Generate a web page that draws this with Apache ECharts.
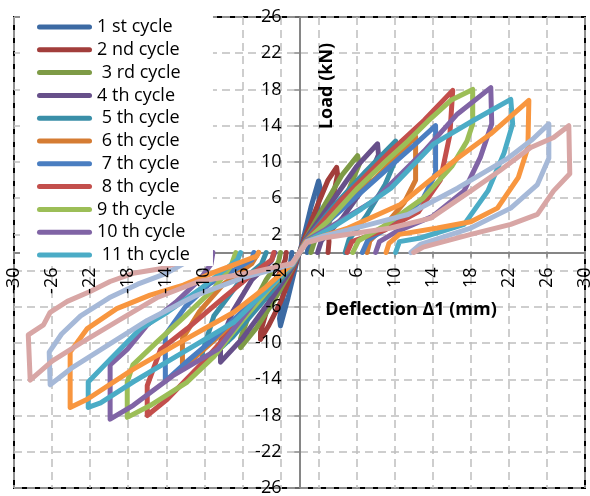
<!DOCTYPE html>
<html>
<head>
<meta charset="utf-8">
<script src="https://cdn.jsdelivr.net/npm/echarts@6.0.0/dist/echarts.min.js"></script>
<style>
  html, body { margin: 0; padding: 0; background: #fff; }
  #main { width: 590px; height: 496px; }
</style>
</head>
<body>
<div id="main"></div>
<script>
// x = deflection (mm), y = load (kN); '-' breaks the line between the two halves of a cycle
var B = ['-', '-'];

var cycle1 = [[0,0],[0.4,1.5],[1.2,5],[2.0,7.9],[2.2,7.0],[1.8,4.0],[1.1,1.4],[0.8,0], B,
  [0,0],[-0.4,-1.5],[-1.2,-5],[-2.0,-8.1],[-2.1,-7.3],[-1.6,-4],[-1.0,-1.5],[-0.8,0]];
var cycle2 = [[0,0],[0.5,1.5],[2,5.5],[3,8],[3.9,9.4],[4.0,8.6],[3.4,5.5],[3.0,2.5],[3.1,1.2],[3.0,0], B,
  [0,0],[-0.5,-1.5],[-2,-5.5],[-3.2,-8],[-4.1,-9.6],[-4.1,-8.8],[-3.2,-5.5],[-2.2,-2.5],[-1.5,-0.8],[-1.4,0]];
var cycle3 = [[0,0],[0.6,1.4],[2.5,5],[4.5,8.6],[6.1,10.7],[6.3,9.8],[5,6.5],[3,3.2],[1.6,1.3],[1.2,0], B,
  [0,0],[-0.6,-1.4],[-2.5,-5],[-4.5,-8.3],[-6.2,-10.5],[-6.2,-9.5],[-5,-6],[-3.5,-3],[-2.2,-1],[-2,0]];
var cycle4 = [[0,0],[0.6,1.4],[3,5],[6,9.5],[8.2,12],[8.3,10.8],[7,7.5],[4.5,3.8],[2.3,1.3],[1.9,0], B,
  [0,0],[-0.6,-1.4],[-3,-5.2],[-6,-9.5],[-8.3,-12.1],[-8.3,-9.9],[-7,-6.5],[-5,-3],[-3,-1],[-2.6,0]];
var cycle5 = [[0,0],[0.7,1.4],[3.5,5],[7,9],[10.1,12.3],[10.2,10.5],[9,7.5],[7,4],[5.2,1.4],[4.8,0], B,
  [0,0],[-0.7,-1.4],[-3.5,-5],[-7,-9.3],[-10.2,-12.4],[-10.2,-11],[-9,-7],[-6.5,-3.5],[-4,-1.3],[-3.5,0]];
var cycle6 = [[0,0],[0.7,1.3],[4,4.5],[8,8.2],[12.2,12.8],[12.2,8],[11,5.5],[9,3],[7.4,1.3],[7.1,0], B,
  [0,0],[-0.7,-1.3],[-4,-4.8],[-8,-8.8],[-12.3,-12.8],[-12.3,-9.5],[-10.5,-6.5],[-8,-3.5],[-5,-1.2],[-4.3,0]];
var cycle7 = [[0,0],[0.7,1.3],[4.5,4.8],[9,9],[12,11.8],[14.3,14],[14.3,8.7],[13,6],[10.5,3.5],[7.2,1.4],[6.6,0], B,
  [0,0],[-0.7,-1.3],[-4.5,-5],[-9,-9.5],[-12,-12.2],[-14.1,-14.2],[-14.1,-9.1],[-12,-6],[-9.5,-3.5],[-7,-2],[-5,-0.8],[-4.8,0]];
var cycle8 = [[0,0],[0.7,1.3],[4.3,5.7],[7,8.5],[9.6,11.2],[13.1,14.6],[16.1,17.9],[15.8,13],[14.8,8],[12.5,4.5],[9,2.5],[5.5,1.2],[5,0], B,
  [0,0],[-0.7,-1.3],[-4,-5],[-7.5,-9],[-10.4,-12.4],[-13.9,-16.2],[-16,-18],[-16,-14.7],[-14.6,-10.7],[-11.8,-8.4],[-8,-5],[-4.5,-2],[-2.9,-0.8],[-2.7,0]];
var cycle9 = [[0,0],[0.7,1.3],[3,3.5],[6.1,7.1],[9,10],[11.4,12.3],[13.5,14.5],[15.9,16.8],[18.2,18],[18.2,14.2],[17.6,12.3],[16,9.5],[13,6],[9,3],[6.2,1.3],[5.6,0], B,
  [0,0],[-0.7,-1.3],[-3,-3.8],[-6,-7.5],[-9,-11.5],[-11.8,-14.3],[-15.7,-16.9],[-18.1,-18.2],[-18.1,-14.3],[-17.5,-12.4],[-15,-9.9],[-12,-7],[-9,-4],[-7.2,-1.5],[-6.7,0]];
var cycle10 = [[0,0],[0.7,1.3],[3.5,3],[7.8,5.7],[10.5,8.5],[13.1,11.2],[16.6,15.3],[20.1,18.2],[20.2,14.2],[19,10.5],[17.3,6.8],[14,4],[10,2.2],[8.4,1.2],[8,0], B,
  [0,0],[-0.7,-1.3],[-4,-4.5],[-8.6,-10.7],[-13.3,-13.6],[-17.5,-16.9],[-19.9,-18.4],[-19.9,-12.4],[-18.1,-10.7],[-16,-8],[-13,-5.5],[-10.5,-3],[-9.3,-1.3],[-9.1,0]];
var cycle11 = [[0,0],[0.7,1.2],[3.5,2.8],[6.5,4.8],[9.6,7.1],[14.1,12],[18.3,14.6],[22.2,16.9],[22.4,14.2],[21.5,11],[19.8,6.8],[17.3,3.1],[12.7,1.6],[10.5,1.2],[10.1,0], B,
  [0,0],[-0.7,-1.3],[-3.5,-4.2],[-6.9,-7.7],[-12.2,-11],[-17.5,-14.3],[-20.9,-16.6],[-22.2,-17.1],[-22.2,-14.3],[-19.9,-11.8],[-16.7,-8.4],[-13.9,-6.6],[-10.4,-4],[-8,-2],[-6.5,-0.8],[-6.2,0]];
var cycle12 = [[0,0],[0.7,1.2],[5.1,2.7],[10.6,5.3],[13.5,7.8],[16.6,10.4],[20.1,13.1],[24.1,16.8],[24,11.6],[23,8.3],[20.8,4.9],[18,3.4],[14.5,2.7],[10.5,2],[9.4,1],[9.1,0], B,
  [0,0],[-0.7,-1.2],[-3.5,-3.8],[-6.9,-6.6],[-12.5,-9.9],[-17.5,-12.9],[-22.3,-16.2],[-24.1,-17.1],[-24.1,-11],[-22.3,-8.4],[-19.2,-6.2],[-15.7,-4.7],[-12.2,-3.6],[-9,-2.2],[-6,-1],[-4.5,-0.4],[-4.3,0]];
var cycle13 = [[0,0],[0.8,1.2],[2.5,1.8],[7,3],[11.4,4.2],[16.6,7.1],[21.9,10.4],[24.5,12.5],[26.2,14.2],[26.2,10.4],[25,7.5],[22.2,4.9],[18,2.7],[12.7,0.9],[11.7,0], B,
  [0,0],[-0.8,-1.3],[-6,-2.8],[-11,-4.8],[-16,-7.5],[-21,-10.8],[-24,-12.8],[-26.2,-14.6],[-26.3,-11],[-25,-9],[-23,-7],[-20,-5],[-17,-3.5],[-14,-2.3],[-11.8,-1],[-11.7,0]];
var cycle14 = [[0,0],[0.8,1.1],[2.5,1.6],[9.6,2.7],[13.8,3.8],[18,6.8],[21,9],[24.3,11.6],[26.7,12.7],[28.3,14],[28.4,8.7],[26.7,6.8],[25,4.2],[22.2,3.1],[18,2],[13,0.6],[12,0], B,
  [0,0],[-0.8,-1.2],[-5,-2.2],[-10.6,-3.2],[-15,-5],[-19,-7.5],[-23,-10],[-26,-12],[-28.3,-14.1],[-28.5,-9.1],[-26.9,-8],[-26.2,-6.6],[-24.4,-5.4],[-22,-4.3],[-19.9,-3.2],[-17.5,-2.3],[-14.6,-1.8],[-12.5,-1],[-12,0]];

var cycles = [cycle1, cycle2, cycle3, cycle4, cycle5, cycle6, cycle7,
  cycle8, cycle9, cycle10, cycle11, cycle12, cycle13, cycle14];
var cycleNames = ['1 st cycle', '2 nd cycle', ' 3 rd cycle', '4 th cycle', ' 5 th cycle',
  ' 6 th cycle', ' 7 th cycle', ' 8 th cycle', '9 th cycle', '10 th cycle', ' 11 th cycle',
  '12 th cycle', '13 th cycle', '14 th cycle'];
var legendNames = cycleNames.slice(0, 11);
var colors = ['#3C6AA3', '#A23E3B', '#7E9B46', '#67508A', '#3A8FA8', '#D57C33', '#4A7EC1',
  '#C34F4C', '#9CBE57', '#8064A5', '#4BACC6', '#F8963F', '#A6B9D8', '#D8A6A5'];

var xMin = -30, xMax = 30, xStep = 4;
var yMin = -26, yMax = 26, yStep = 4;

var font = 'Open Sans';
var axisGray = '#868686';
var gridW = 571, gridH = 471;   // plot box size in px
var myChart = echarts.init(document.getElementById('main'));

var series = cycles.map(function (d, i) {
  return {
    name: cycleNames[i],
    type: 'line',
    data: d,
    color: colors[i],
    showSymbol: false,
    symbol: 'none',
    connectNulls: false,
    lineStyle: { width: 5, color: colors[i], cap: 'round', join: 'round' },
    emphasis: { disabled: true }
  };
});

// axis 0: line, ticks and grid lines under the data; axis 1: labels only, drawn on top
function xAxisPart(labelsOnly) {
  return {
    type: 'value',
    min: xMin, max: xMax, interval: xStep,
    position: 'bottom',
    offset: -gridH * (0 - yMin) / (yMax - yMin),
    z: labelsOnly ? 5 : 0,
    axisLine: { show: !labelsOnly, onZero: false, lineStyle: { color: axisGray, width: 2 } },
    axisTick: { show: !labelsOnly, length: 5, lineStyle: { color: axisGray, width: 1.5 } },
    axisLabel: {
      show: labelsOnly, rotate: 90, margin: 15, fontFamily: font, fontSize: 18, color: '#000',
      showMinLabel: true, showMaxLabel: true
    },
    splitLine: { show: !labelsOnly, lineStyle: { color: '#BFBFBF', width: 1.5, type: [8, 5] } }
  };
}
function yAxisPart(labelsOnly) {
  return {
    type: 'value',
    min: yMin, max: yMax, interval: yStep,
    position: 'left',
    offset: -gridW * (0 - xMin) / (xMax - xMin),
    z: labelsOnly ? 5 : 0,
    axisLine: { show: !labelsOnly, onZero: false, lineStyle: { color: axisGray, width: 2 } },
    axisTick: { show: !labelsOnly, length: 5, lineStyle: { color: axisGray, width: 1.5 } },
    axisLabel: {
      show: labelsOnly, margin: 18, fontFamily: font, fontSize: 18, color: '#000',
      showMinLabel: true, showMaxLabel: true
    },
    splitLine: { show: !labelsOnly, lineStyle: { color: '#BFBFBF', width: 1.5, type: [8, 5] } }
  };
}

var option = {
  animation: false,
  backgroundColor: '#fff',
  grid: {
    left: 14, top: 17, width: gridW, height: gridH,
    containLabel: false, outerBoundsMode: 'none',
    show: true, borderColor: '#000', borderWidth: 2, backgroundColor: 'transparent'
  },
  legend: {
    data: legendNames,
    orient: 'vertical',
    left: 20,
    top: 1,
    padding: [17, 23, 2, 17],
    itemGap: 4.8,
    itemWidth: 55,
    itemHeight: 5,
    icon: 'path://M2.5,0H52.5A2.5,2.5,0,0,1,52.5,5H2.5A2.5,2.5,0,0,1,2.5,0Z',
    backgroundColor: '#fff',
    selectedMode: false,
    itemStyle: { borderWidth: 0 },
    textStyle: { fontFamily: font, fontSize: 18, lineHeight: 18, color: '#000' }
  },
  xAxis: [xAxisPart(false), xAxisPart(true)],
  yAxis: [yAxisPart(false), yAxisPart(true)],
  graphic: [
    {
      type: 'text', x: 327, y: 86, rotation: Math.PI / 2, z: 10,
      style: { text: 'Load (kN)', fontFamily: font, fontSize: 18, fontWeight: 'bold',
        fill: '#000', align: 'center', verticalAlign: 'middle' }
    },
    {
      type: 'text', x: 411, y: 310, z: 10,
      style: { text: 'Deflection Δ1 (mm)', fontFamily: font, fontSize: 18, fontWeight: 'bold',
        fill: '#000', align: 'center', verticalAlign: 'middle' }
    }
  ],
  series: series
};

myChart.setOption(option);
</script>
</body>
</html>
